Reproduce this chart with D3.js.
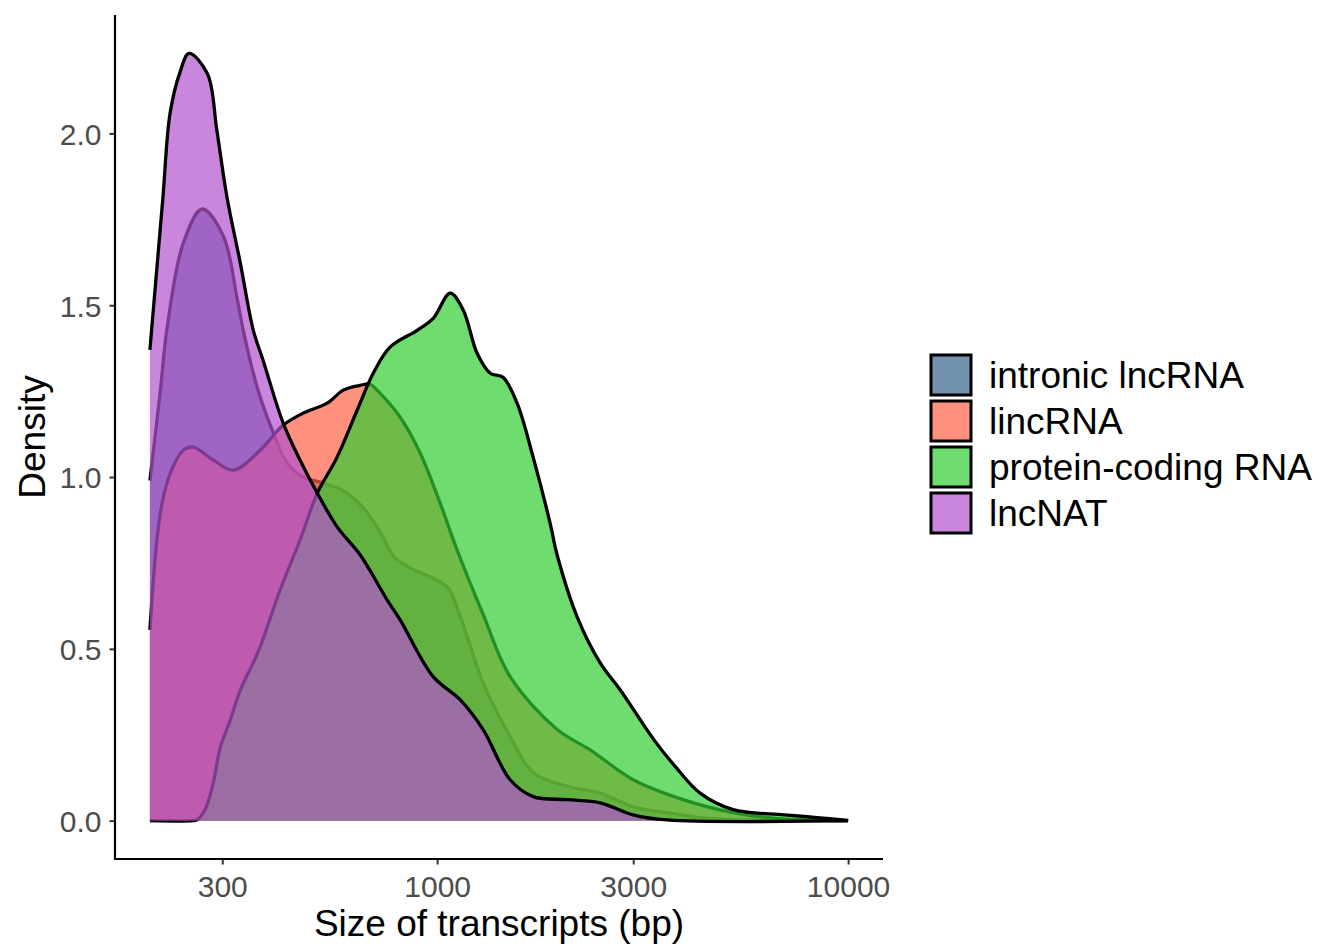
<!DOCTYPE html>
<html>
<head>
<meta charset="utf-8">
<script src="https://cdn.jsdelivr.net/npm/d3@7"></script>
<style>
  html, body { margin: 0; padding: 0; background: #fff; }
  svg { display: block; font-family: "Liberation Sans", Arial, sans-serif; }
</style>
</head>
<body>
<svg id="chart" width="1320" height="947"></svg>
<script>
// Transcript classes, in drawing / legend order
const categories = ["intronic lncRNA", "lincRNA", "protein-coding RNA", "lncNAT"];
const fillColors = ["#36648B", "#FF6347", "#32CD32", "#B452CD"];

// Density estimates: [transcript size (bp), density]
const intronicLncRNA = [
  [200, 0.99], [212, 1.25], [220, 1.43], [241, 1.68], [268, 1.78],
  [302, 1.70], [326, 1.52], [337, 1.43], [365, 1.26], [399, 1.13], [432, 1.04],
  [472, 1.00], [519, 0.985], [591, 0.96], [661, 0.91], [727, 0.84], [782, 0.77],
  [845, 0.74], [1058, 0.68], [1118, 0.62], [1203, 0.51], [1294, 0.40], [1505, 0.245],
  [1712, 0.14], [2072, 0.10], [2493, 0.08], [2999, 0.04], [3628, 0.023], [4364, 0.009],
  [5774, 0.002], [10000, 0]
];
const lincRNA = [
  [200, 0.555], [212, 0.895], [224, 1.01], [241, 1.078], [255, 1.087], [285, 1.05],
  [319, 1.02], [371, 1.078], [422, 1.151], [472, 1.186], [540, 1.215], [591, 1.253],
  [650, 1.267], [687, 1.27], [714, 1.253], [813, 1.174], [909, 1.07], [1017, 0.924],
  [1118, 0.788], [1294, 0.60], [1505, 0.419], [1959, 0.265], [2357, 0.206], [2999, 0.119],
  [3967, 0.061], [5251, 0.023], [6832, 0.006], [10000, 0]
];
const proteinCodingRNA = [
  [200, 0], [255, 0], [261, 0.003], [272, 0.03], [284, 0.10], [297, 0.215], [314, 0.294],
  [332, 0.38], [357, 0.46], [371, 0.506], [415, 0.672], [464, 0.817], [511, 0.953],
  [571, 1.058], [639, 1.195], [699, 1.302], [768, 1.378], [894, 1.427], [978, 1.462],
  [1076, 1.535], [1157, 1.486], [1251, 1.36], [1346, 1.302], [1447, 1.29], [1565, 1.215],
  [1712, 1.058], [1883, 0.866], [1959, 0.773], [2191, 0.593], [2493, 0.459], [2788, 0.381],
  [3370, 0.235], [3800, 0.157], [4364, 0.08], [5251, 0.032], [7000, 0.017], [8400, 0.009],
  [10000, 0.001]
];
const lncNAT = [
  [200, 1.37], [215, 1.81], [224, 2.06], [237, 2.18], [249, 2.233], [276, 2.174],
  [291, 2.009], [308, 1.814], [332, 1.622], [357, 1.427], [377, 1.34], [422, 1.157],
  [464, 1.049], [511, 0.953], [571, 0.855], [650, 0.773], [756, 0.642], [813, 0.584],
  [978, 0.419], [1137, 0.352], [1294, 0.265], [1505, 0.119], [1712, 0.07], [2072, 0.061],
  [2493, 0.052], [2999, 0.017], [3628, 0.002], [10000, 0]
];
const seriesValues = [intronicLncRNA, lincRNA, proteinCodingRNA, lncNAT];

// Axis ticks
const xTicks = [300, 1000, 3000, 10000];
const yTicks = [0, 0.5, 1.0, 1.5, 2.0];

// Panel geometry
const panel = { left: 115, right: 883, top: 15, bottom: 859 };
const fillAlpha = 0.7;

const svg = d3.select("#chart");

// Log x scale with 5% expansion on each side (in log space)
const allPts = seriesValues.flat();
const xMin = d3.min(allPts, d => d[0]);
const xMax = d3.max(allPts, d => d[0]);
const lMin = Math.log10(xMin), lMax = Math.log10(xMax);
const lPad = (lMax - lMin) * 0.05;
const x = d3.scaleLog()
  .domain([Math.pow(10, lMin - lPad), Math.pow(10, lMax + lPad)])
  .range([panel.left, panel.right]);

const yMax = d3.max(allPts, d => d[1]);
const yPad = yMax * 0.05;
const y = d3.scaleLinear()
  .domain([-yPad, yMax + yPad])
  .range([panel.bottom, panel.top]);

const curve = d3.curveCatmullRom.alpha(0.5);
const area = d3.area()
  .x(d => x(d[0]))
  .y0(y(0))
  .y1(d => Math.min(y(0), y(d[1])))
  .curve(curve);
const line = d3.line()
  .x(d => x(d[0]))
  .y(d => y(d[1]))
  .curve(curve);

// Each density: translucent fill, then its upper outline
const marks = svg.append("g");
seriesValues.forEach((vals, i) => {
  const g = marks.append("g");
  g.append("path")
    .datum(vals)
    .attr("d", area)
    .attr("fill", fillColors[i])
    .attr("fill-opacity", fillAlpha)
    .attr("stroke", "none");
  g.append("path")
    .datum(vals)
    .attr("d", line)
    .attr("fill", "none")
    .attr("stroke", "#000")
    .attr("stroke-width", 3.3)
    .attr("stroke-linejoin", "round")
    .attr("stroke-linecap", "butt");
});

// Axes
const xAxis = svg.append("g")
  .attr("transform", `translate(0,${panel.bottom})`)
  .call(d3.axisBottom(x).tickValues(xTicks).tickFormat(d3.format("d")).tickSize(5.5).tickPadding(4));
const yAxis = svg.append("g")
  .attr("transform", `translate(${panel.left},0)`)
  .call(d3.axisLeft(y).tickValues(yTicks).tickFormat(d3.format(".1f")).tickSize(5.5).tickPadding(8));

[xAxis, yAxis].forEach(ax => {
  ax.select(".domain").remove();
  ax.selectAll(".tick line").attr("stroke", "#333").attr("stroke-width", 2);
  ax.selectAll(".tick text")
    .attr("fill", "#4D4D4D")
    .style("font-size", "30px")
    .style("font-family", "'Liberation Sans', Arial, sans-serif");
});
xAxis.selectAll(".tick text").attr("dy", "0.95em");
yAxis.selectAll(".tick text").attr("dy", "0.36em");

// Axis lines
svg.append("line")
  .attr("x1", panel.left).attr("x2", panel.right)
  .attr("y1", panel.bottom).attr("y2", panel.bottom)
  .attr("stroke", "#000").attr("stroke-width", 2.2);
svg.append("line")
  .attr("x1", panel.left).attr("x2", panel.left)
  .attr("y1", panel.top).attr("y2", panel.bottom + 1.1)
  .attr("stroke", "#000").attr("stroke-width", 2.2);

// Axis titles
svg.append("text")
  .attr("x", (panel.left + panel.right) / 2)
  .attr("y", 936)
  .attr("text-anchor", "middle")
  .style("font-size", "37px")
  .attr("fill", "#000")
  .text("Size of transcripts (bp)");
svg.append("text")
  .attr("transform", `translate(45,${(panel.top + panel.bottom) / 2}) rotate(-90)`)
  .attr("text-anchor", "middle")
  .style("font-size", "37px")
  .attr("fill", "#000")
  .text("Density");

// Legend
const legend = svg.append("g").attr("transform", "translate(931,355)");
categories.forEach((c, i) => {
  const row = legend.append("g").attr("transform", `translate(0,${i * 46})`);
  row.append("rect")
    .attr("width", 40).attr("height", 40)
    .attr("fill", "#fff");
  row.append("rect")
    .attr("width", 40).attr("height", 40)
    .attr("fill", fillColors[i])
    .attr("fill-opacity", fillAlpha)
    .attr("stroke", "#000")
    .attr("stroke-width", 3);
  row.append("text")
    .attr("x", 58)
    .attr("y", 20 + 13)
    .style("font-size", "37px")
    .attr("fill", "#000")
    .text(c);
});
</script>
</body>
</html>
